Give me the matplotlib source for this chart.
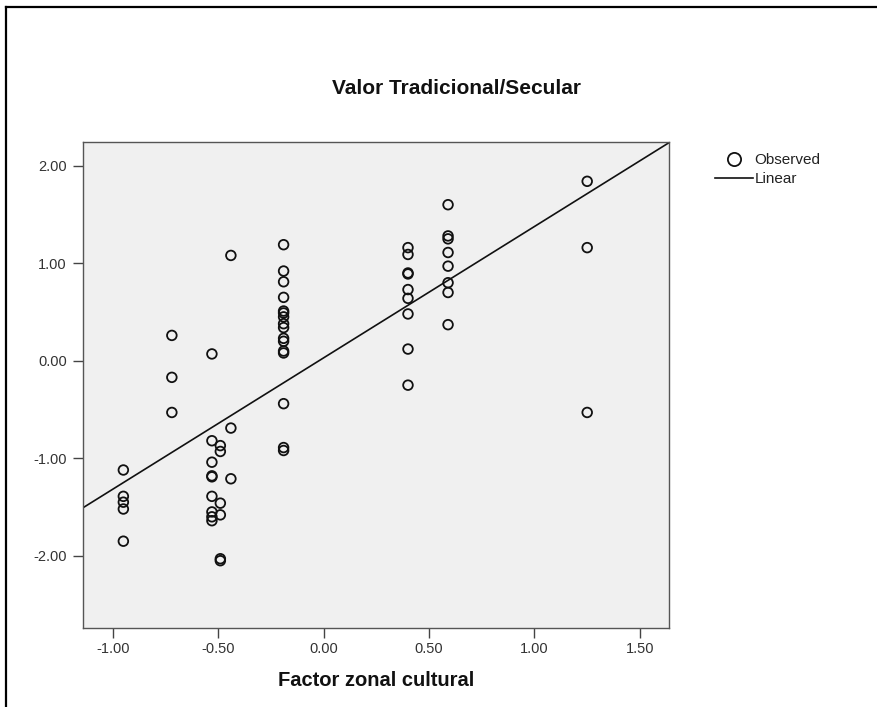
import numpy as np
import matplotlib
matplotlib.use("Agg")
import matplotlib.pyplot as plt
from matplotlib.lines import Line2D

plt.rcParams['font.family'] = ['Liberation Sans', 'DejaVu Sans']
plt.rcParams['axes.unicode_minus'] = False

# factor levels (x) and the observed scores at each level (y)
factor_levels = [-0.95, -0.72, -0.53, -0.49, -0.44, -0.19, 0.40, 0.59, 1.25]
scores_m095 = [-1.12, -1.39, -1.45, -1.52, -1.85]
scores_m072 = [0.26, -0.17, -0.53]
scores_m053 = [0.07, -0.82, -1.04, -1.18, -1.19, -1.39, -1.55, -1.60, -1.64]
scores_m049 = [-0.87, -0.93, -1.46, -1.58, -2.03, -2.05]
scores_m044 = [1.08, -0.69, -1.21]
scores_m019 = [1.19, 0.92, 0.81, 0.65, 0.51, 0.49, 0.45, 0.38, 0.34,
               0.23, 0.20, 0.10, 0.08, -0.44, -0.89, -0.92]
scores_p040 = [1.16, 1.09, 0.90, 0.89, 0.73, 0.64, 0.48, 0.12, -0.25]
scores_p059 = [1.60, 1.28, 1.25, 1.11, 0.97, 0.80, 0.70, 0.37]
scores_p125 = [1.84, 1.16, -0.53]

groups = [scores_m095, scores_m072, scores_m053, scores_m049, scores_m044,
          scores_m019, scores_p040, scores_p059, scores_p125]
x = np.concatenate([[lv] * len(g) for lv, g in zip(factor_levels, groups)])
y = np.concatenate(groups)

x_ticks = [-1.0, -0.5, 0.0, 0.5, 1.0, 1.5]
y_ticks = [-2.0, -1.0, 0.0, 1.0, 2.0]
x_range = (-1.14, 1.638)
y_range = (-2.74, 2.243)

fig = plt.figure(figsize=(8.78, 7.07), dpi=100)
ax = fig.add_axes([83.3 / 878, 1 - 628 / 707, (669 - 83.3) / 878, (628 - 142) / 707])
ax.set_facecolor('#f0f0f0')

ax.scatter(x, y, s=48, facecolors='none', edgecolors='#111111', linewidths=1.3, zorder=3)

# least squares line across the full x range
slope, intercept = np.polyfit(x, y, 1)
xs = np.array(x_range)
ax.plot(xs, intercept + slope * xs, color='#111111', lw=1.2, zorder=2)

ax.set_xlim(*x_range)
ax.set_ylim(*y_range)
ax.set_xticks(x_ticks)
ax.set_yticks(y_ticks)
ax.set_xticklabels(['%.2f' % t for t in x_ticks])
ax.set_yticklabels(['%.2f' % t for t in y_ticks])
ax.tick_params(direction='out', length=7, width=1, color='#444444',
               labelsize=10.5, labelcolor='#333333')
ax.tick_params(axis='x', pad=3)
ax.tick_params(axis='y', pad=5)
for sp in ax.spines.values():
    sp.set_color('#555555')
    sp.set_linewidth(1.0)

fig.text(457 / 878, 1 - 88 / 707, 'Valor Tradicional/Secular', ha='center', va='center',
         fontsize=15, fontweight='bold', color='#111111')
fig.text(376 / 878, 1 - 681 / 707, 'Factor zonal cultural', ha='center', va='center',
         fontsize=14.5, fontweight='bold', color='#111111')

handles = [Line2D([], [], ls='none', marker='o', markersize=9.5, markerfacecolor='none',
                  markeredgecolor='#111111', markeredgewidth=1.3),
           Line2D([], [], color='#111111', lw=1.2)]
fig.legend(handles, ['Observed', 'Linear'], loc='upper left',
           bbox_to_anchor=(715 / 878, 1 - 153 / 707), frameon=False, fontsize=11,
           handlelength=2.5, handletextpad=0.1, labelspacing=0.35, borderpad=0,
           borderaxespad=0, labelcolor='#222222')

# outer frame (top and left edges)
fig.add_artist(Line2D([6.5 / 878, 1], [1 - 6.5 / 707, 1 - 6.5 / 707], color='black', lw=1.6,
                      transform=fig.transFigure))
fig.add_artist(Line2D([6.5 / 878, 6.5 / 878], [0, 1 - 6.5 / 707], color='black', lw=1.6,
                      transform=fig.transFigure))

fig.savefig('out.png', dpi=100, facecolor='white')
